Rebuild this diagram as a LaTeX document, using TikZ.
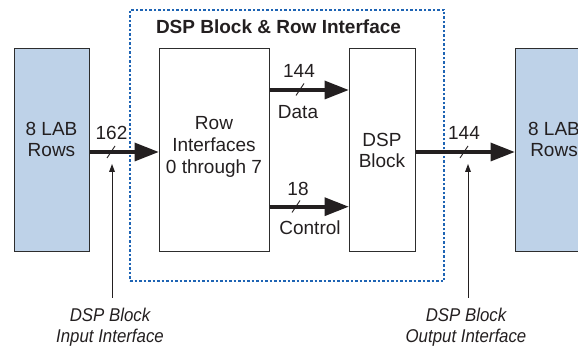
\documentclass[tikz,border=0pt]{standalone}
\usepackage{fontspec}
\setmainfont{Liberation Sans}
\newfontfamily\condfont[FakeStretch=0.91]{Liberation Sans}
\usetikzlibrary{arrows.meta,calc}
\definecolor{labfill}{RGB}{190,210,232}
\definecolor{dotblue}{RGB}{30,100,180}
\definecolor{boxline}{RGB}{45,45,45}
\definecolor{ink}{RGB}{35,31,32}
\begin{document}
\begin{tikzpicture}[x=1pt,y=-1pt,
  every node/.style={font=\fontsize{19}{21.7}\selectfont, inner sep=0pt, align=center, text=ink},
  blk/.style={draw=boxline, line width=1pt, minimum height=203pt},
  lab/.style={blk, fill=labfill},
  bus/.style={line width=4pt, draw=ink, -{Triangle[length=24pt,width=19pt,line width=0pt]}},
  ptr/.style={line width=0.9pt, draw=ink, -{Triangle[length=8pt,width=6pt,line width=0pt]}},
  slashmark/.style={line width=0.9pt, draw=ink},
  dotbox/.style={draw=dotblue, line width=1.2pt, dash pattern=on 2.5pt off 2pt},
  italbl/.style={font=\condfont\itshape\fontsize{18.5}{21}\selectfont}]
\useasboundingbox (0,0) rectangle (578,347);
% dotted enclosure and title
\node[dotbox, minimum width=314pt, minimum height=271pt] (encl) at (287,145.5) {};
\node[font=\bfseries\fontsize{19}{21.7}\selectfont] (title) at (278.5,27) {DSP Block \& Row Interface};
% blocks
\node[lab, minimum width=75pt] (labL) at (51.5,150.5) {};
\node (labLt) at (51.5,139.5) {8 LAB\\Rows};
\node[blk, minimum width=110pt] (rowif) at (214,150.5) {};
\node (rowift) at (214,147) {Row\\Interfaces\\0 through 7};
\node[blk, minimum width=66pt] (dsp) at (382,150.5) {DSP\\Block};
\node[lab, minimum width=78pt] (labR) at (554,150.5) {};
\node (labRt) at (554,139.5) {8 LAB\\Rows};
% buses
\draw[bus] ([yshift=-1.5pt]labL.east) -- ([yshift=-1.5pt]rowif.west);
\draw[bus] ([yshift=60.5pt]rowif.east) -- ([yshift=60.5pt]dsp.west);
\draw[bus] ([yshift=-56.2pt]rowif.east) -- ([yshift=-56.2pt]dsp.west);
\draw[bus] ([yshift=-1.5pt]dsp.east) -- ([yshift=-1.5pt]labR.west);
% slash marks
\draw[slashmark] (107,158) -- (115,146);
\draw[slashmark] (296,95.5) -- (304,83.5);
\draw[slashmark] (292,212.5) -- (300,200.5);
\draw[slashmark] (460,158) -- (468,146);
% bus labels
\node (n162) at (111.5,133) {162};
\node (n144a) at (299,71) {144};
\node (ndata) at (298,112.5) {Data};
\node (n18) at (298,189) {18};
\node (nctrl) at (310,228) {Control};
\node (n144b) at (464,133) {144};
% interface pointers
\node[italbl] (inlbl) at (110,327) {DSP Block\\Input Interface};
\node[italbl] (outlbl) at (466,327) {DSP Block\\Output Interface};
\coordinate (intip) at (112,164);
\coordinate (outtip) at (468,164);
\draw[ptr] ($(inlbl.north)+(2,-10)$) -- (intip);
\draw[ptr] ($(outlbl.north)+(2,-10)$) -- (outtip);
\end{tikzpicture}
\end{document}
